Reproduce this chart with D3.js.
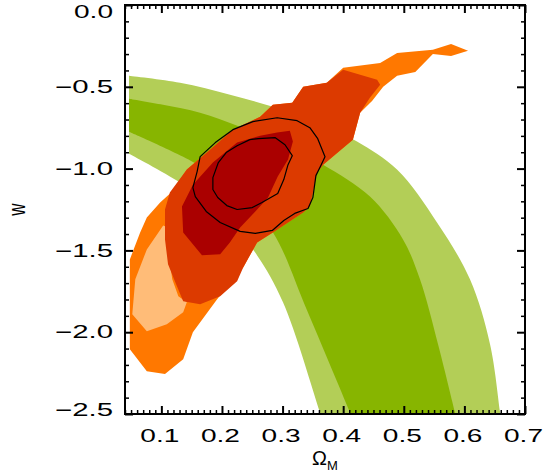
<!DOCTYPE html>
<html>
<head>
<meta charset="utf-8">
<script src="https://cdn.jsdelivr.net/npm/d3@7"></script>
<style>
  body { margin: 0; background: #fff; }
  text { font-family: "Liberation Sans", Arial, sans-serif; fill: #000; }
</style>
</head>
<body>
<svg id="chart" width="553" height="472"></svg>
<script>
// axis ticks
const xTicks = [0.1, 0.2, 0.3, 0.4, 0.5, 0.6, 0.7];
const yTicks = [0.0, -0.5, -1.0, -1.5, -2.0, -2.5];

// green band, [Omega_M, w] along each edge
const bandOuterTop = [[0.0466, -0.433], [0.1308, -0.476], [0.2133, -0.549], [0.2842, -0.622], [0.3618, -0.726],
  [0.4228, -0.835], [0.4888, -1.006], [0.5548, -1.329], [0.6092, -1.677], [0.6423, -2.073], [0.6588, -2.488], [0.663, -2.6]];
const bandInnerTop = [[0.0466, -0.573], [0.1027, -0.610], [0.1638, -0.659], [0.2298, -0.744], [0.2958, -0.841],
  [0.3667, -0.976], [0.4442, -1.171], [0.4987, -1.433], [0.5267, -1.677], [0.5565, -2.073], [0.5845, -2.49], [0.592, -2.6]];
const bandInnerBottom = [[0.0466, -0.774], [0.1638, -0.982], [0.2298, -1.159], [0.2842, -1.390], [0.3403, -1.866],
  [0.4113, -2.49], [0.424, -2.6]];
const bandOuterBottom = [[0.0466, -0.909], [0.1308, -1.085], [0.1968, -1.262], [0.2545, -1.512], [0.3007, -1.817],
  [0.3618, -2.49], [0.372, -2.6]];

// orange likelihood regions
const orangeOuter = [[0.606, -0.280], [0.578, -0.311], [0.548, -0.299], [0.519, -0.409], [0.489, -0.433], [0.466, -0.500],
  [0.448, -0.585], [0.428, -0.659], [0.416, -0.823], [0.367, -0.976], [0.357, -1.024], [0.345, -1.232], [0.334, -1.268],
  [0.284, -1.390], [0.258, -1.451], [0.235, -1.604], [0.192, -1.799], [0.152, -2.000], [0.136, -2.165], [0.106, -2.256],
  [0.076, -2.238], [0.048, -2.104], [0.048, -1.555], [0.065, -1.390], [0.076, -1.299], [0.098, -1.207], [0.118, -1.140],
  [0.142, -1.006], [0.175, -0.902], [0.218, -0.762], [0.263, -0.683], [0.284, -0.610], [0.316, -0.598], [0.334, -0.500],
  [0.373, -0.476], [0.400, -0.384], [0.461, -0.354], [0.489, -0.293], [0.548, -0.274], [0.578, -0.238]];
const peach = [[0.103, -1.348], [0.076, -1.494], [0.057, -1.677], [0.052, -1.890], [0.076, -1.994], [0.109, -1.951],
  [0.136, -1.878], [0.142, -1.817], [0.128, -1.780], [0.118, -1.677], [0.111, -1.494], [0.111, -1.360]];
const redOrange = [[0.218, -0.762], [0.263, -0.683], [0.284, -0.610], [0.316, -0.598], [0.334, -0.500], [0.373, -0.476],
  [0.400, -0.396], [0.456, -0.457], [0.461, -0.488], [0.444, -0.567], [0.428, -0.659], [0.416, -0.823], [0.367, -0.976],
  [0.357, -1.024], [0.345, -1.232], [0.334, -1.268], [0.284, -1.390], [0.258, -1.451], [0.235, -1.604], [0.225, -1.689],
  [0.197, -1.780], [0.164, -1.829], [0.136, -1.811], [0.123, -1.695], [0.111, -1.585], [0.106, -1.433], [0.106, -1.250],
  [0.114, -1.146], [0.142, -1.006], [0.175, -0.902]];
const darkRed = [[0.312, -0.768], [0.317, -0.835], [0.309, -0.945], [0.292, -1.049], [0.276, -1.177], [0.255, -1.262],
  [0.230, -1.360], [0.213, -1.451], [0.197, -1.524], [0.167, -1.530], [0.136, -1.390], [0.134, -1.232], [0.152, -1.098],
  [0.185, -0.963], [0.225, -0.841], [0.263, -0.799], [0.291, -0.780]];

// black contours
const contourInner = [[0.185, -1.055], [0.194, -0.963], [0.207, -0.902], [0.225, -0.860], [0.246, -0.823], [0.260, -0.817],
  [0.288, -0.811], [0.304, -0.854], [0.316, -0.921], [0.309, -0.976], [0.302, -1.067], [0.292, -1.152], [0.266, -1.207],
  [0.250, -1.238], [0.225, -1.250], [0.208, -1.226], [0.193, -1.177], [0.185, -1.128]];
const contourOuter = [[0.164, -0.927], [0.189, -0.841], [0.218, -0.762], [0.251, -0.713], [0.291, -0.689], [0.324, -0.707],
  [0.345, -0.750], [0.358, -0.817], [0.370, -0.927], [0.363, -0.982], [0.355, -1.043], [0.350, -1.177], [0.342, -1.244],
  [0.320, -1.274], [0.302, -1.317], [0.283, -1.378], [0.255, -1.396], [0.230, -1.384], [0.197, -1.329], [0.174, -1.262],
  [0.156, -1.171], [0.152, -1.116], [0.159, -1.018]];

const plotLeft = 125, plotRight = 525, plotTop = 5, plotBottom = 414;

const svg = d3.select("#chart");

const x = d3.scaleLinear().domain([0.04, 0.7]).range([plotLeft, plotRight]);
const y = d3.scaleLinear().domain([-2.5, 0]).range([plotBottom, plotTop]);

svg.append("defs").append("clipPath").attr("id", "plot")
  .append("rect")
  .attr("x", plotLeft).attr("y", plotTop)
  .attr("width", plotRight - plotLeft).attr("height", plotBottom - plotTop);

const smooth = d3.line().x(d => x(d[0])).y(d => y(d[1])).curve(d3.curveCatmullRom.alpha(0.5));
const poly = d3.line().x(d => x(d[0])).y(d => y(d[1])).curve(d3.curveLinearClosed);

function bandPath(upper, lower) {
  const a = smooth(upper);
  const b = smooth(lower.slice().reverse());
  return a + "L" + b.slice(1) + "Z";
}

const plot = svg.append("g").attr("clip-path", "url(#plot)");

plot.append("path").attr("d", bandPath(bandOuterTop, bandOuterBottom)).attr("fill", "#b3ce57");
plot.append("path").attr("d", bandPath(bandInnerTop, bandInnerBottom)).attr("fill", "#87b500");

const regions = [
  { pts: orangeOuter, color: "#ff7800" },
  { pts: peach, color: "#ffbc78" },
  { pts: redOrange, color: "#dc3a00" },
  { pts: darkRed, color: "#aa0000" }
];
plot.selectAll(".region")
  .data(regions)
  .join("path")
  .attr("class", "region")
  .attr("d", d => poly(d.pts))
  .attr("fill", d => d.color);

plot.selectAll(".contour")
  .data([contourOuter, contourInner])
  .join("path")
  .attr("class", "contour")
  .attr("d", d => poly(d))
  .attr("fill", "none")
  .attr("stroke", "#000")
  .attr("stroke-width", 1.2)
  .attr("stroke-linejoin", "round");

// minor tick values
const xMinor = d3.range(4, 71).map(i => i / 100).filter(v => !xTicks.some(t => Math.abs(t - v) < 1e-6));
const yMinor = d3.range(-25, 1).map(i => i / 10).filter(v => !yTicks.some(t => Math.abs(t - v) < 1e-6));

const fmt = d3.format(".1f");

function drawAxis(axis, transform, width) {
  const g = svg.append("g").attr("transform", transform).call(axis);
  g.select(".domain").remove();
  g.selectAll(".tick line").attr("stroke", "#000").attr("stroke-width", width);
  return g;
}

// bottom
const xAxis = drawAxis(d3.axisBottom(x).tickValues(xTicks).tickSize(-8).tickSizeOuter(0).tickPadding(15).tickFormat(fmt),
  `translate(0,${plotBottom})`, 2);
drawAxis(d3.axisBottom(x).tickValues(xMinor).tickSize(-4).tickSizeOuter(0).tickFormat(""), `translate(0,${plotBottom})`, 1.5);
// top
drawAxis(d3.axisTop(x).tickValues(xTicks).tickSize(-8).tickSizeOuter(0).tickFormat(""), `translate(0,${plotTop})`, 2);
drawAxis(d3.axisTop(x).tickValues(xMinor).tickSize(-4).tickSizeOuter(0).tickFormat(""), `translate(0,${plotTop})`, 1.5);
// left
const yAxis = drawAxis(d3.axisLeft(y).tickValues(yTicks).tickSize(-8).tickSizeOuter(0).tickPadding(12).tickFormat(fmt),
  `translate(${plotLeft},0)`, 2);
drawAxis(d3.axisLeft(y).tickValues(yMinor).tickSize(-4).tickSizeOuter(0).tickFormat(""), `translate(${plotLeft},0)`, 1.5);
// right
drawAxis(d3.axisRight(y).tickValues(yTicks).tickSize(-8).tickSizeOuter(0).tickFormat(""), `translate(${plotRight},0)`, 2);
drawAxis(d3.axisRight(y).tickValues(yMinor).tickSize(-4).tickSizeOuter(0).tickFormat(""), `translate(${plotRight},0)`, 1.5);

xAxis.selectAll("text")
  .attr("font-size", 18)
  .attr("font-family", "Liberation Sans, Arial, sans-serif")
  .attr("x", -2)
  .attr("textLength", 39)
  .attr("lengthAdjust", "spacingAndGlyphs");

yAxis.selectAll("text")
  .attr("font-size", 18)
  .attr("font-family", "Liberation Sans, Arial, sans-serif")
  .attr("textLength", d => (d < 0 ? 58 : 39))
  .attr("lengthAdjust", "spacingAndGlyphs")
  .attr("y", d => (d === 0 ? 7 : d === -2.5 ? -4 : 0));

// frame
svg.append("rect")
  .attr("x", plotLeft).attr("y", plotTop)
  .attr("width", plotRight - plotLeft).attr("height", plotBottom - plotTop)
  .attr("fill", "none").attr("stroke", "#000").attr("stroke-width", 2);

// axis titles
const xt = svg.append("text")
  .attr("x", (plotLeft + plotRight) / 2)
  .attr("y", 465)
  .attr("text-anchor", "middle")
  .attr("font-size", 20);
xt.append("tspan").text("Ω");
xt.append("tspan").attr("font-size", 13).attr("dy", 5).text("M");

svg.append("text")
  .attr("transform", `translate(25,${(plotTop + plotBottom) / 2}) rotate(-90) scale(1,1.45)`)
  .attr("text-anchor", "middle")
  .attr("font-size", 17)
  .text("w");
</script>
</body>
</html>
